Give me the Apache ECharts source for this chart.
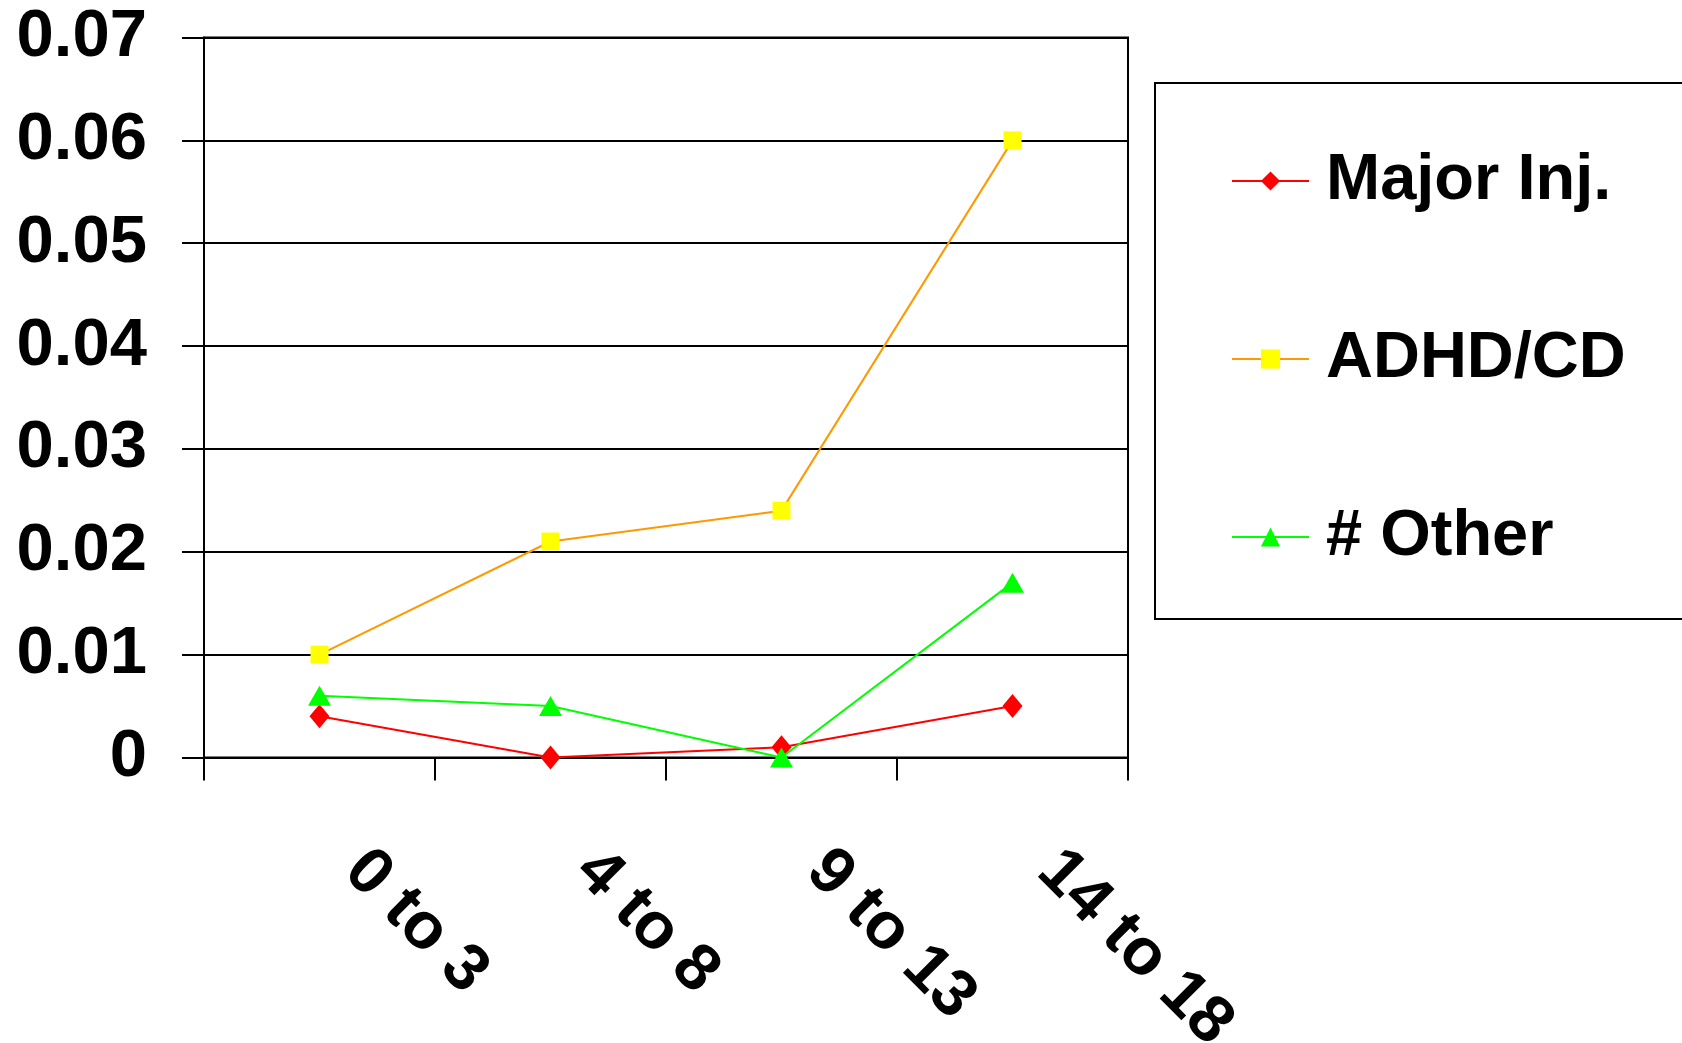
<!DOCTYPE html>
<html>
<head>
<meta charset="utf-8">
<script src="https://cdn.jsdelivr.net/npm/echarts@6/dist/echarts.min.js"></script>
<style>
html,body{margin:0;padding:0;background:#fff;}
#chart{width:1682px;height:1043px;}
</style>
</head>
<body>
<div id="chart"></div>
<script>
const categories = ['0 to 3', '4 to 8', '9 to 13', '14 to 18'];
const majorInj = [0.004, 0, 0.001, 0.005];
const adhdCd = [0.010, 0.021, 0.024, 0.060];
const other = [0.006, 0.005, 0, 0.017];
const seriesNames = ['Major Inj.', 'ADHD/CD', '# Other'];

const FONT = '"Liberation Sans", Arial, sans-serif';
const chart = echarts.init(document.getElementById('chart'), null, {renderer: 'canvas'});
chart.setOption({
  animation: false,
  backgroundColor: '#fff',
  grid: {left: 204, top: 37.5, width: 924, height: 720, show: true, borderColor: '#000', borderWidth: 2,
    containLabel: false, outerBoundsMode: 'none'},
  legend: {
    orient: 'vertical',
    left: 1155, top: 83,
    data: seriesNames,
    selectedMode: false,
    borderColor: '#000', borderWidth: 2,
    padding: [63, 150, 47, 76],
    itemWidth: 77, itemHeight: 24,
    itemGap: 108,
    textStyle: {fontFamily: FONT, fontWeight: 'bold', fontSize: 65, color: '#000', lineHeight: 70, padding: [0, 0, 0, 12]}
  },
  xAxis: {
    type: 'category',
    data: categories,
    boundaryGap: true,
    axisLine: {lineStyle: {color: '#000', width: 2}},
    axisTick: {show: true, length: 23, inside: false, lineStyle: {color: '#000', width: 2}},
    axisLabel: {rotate: -45, margin: 68, padding: [0, 0, 0, 50], fontFamily: FONT, fontWeight: 'bold', fontSize: 66, color: '#000', interval: 0}
  },
  yAxis: {
    type: 'value',
    min: 0, max: 0.07, interval: 0.01,
    axisLine: {show: true, lineStyle: {color: '#000', width: 2}},
    axisTick: {show: true, length: 22, inside: false, lineStyle: {color: '#000', width: 2}},
    splitLine: {show: true, lineStyle: {color: '#000', width: 2}},
    axisLabel: {margin: 57, fontFamily: FONT, fontWeight: 'bold', fontSize: 67, color: '#000',
      formatter: v => (v === 0 ? '0' : v.toFixed(2))}
  },
  series: [
    {name: seriesNames[0], type: 'line', data: majorInj, symbol: 'diamond', symbolSize: [20, 24],
      itemStyle: {color: '#ff0000'}, lineStyle: {color: '#ff0000', width: 2}, z: 3},
    {name: seriesNames[1], type: 'line', data: adhdCd, symbol: 'rect', symbolSize: 18,
      itemStyle: {color: '#ffff00'}, lineStyle: {color: '#ff9900', width: 2}, z: 2},
    {name: seriesNames[2], type: 'line', data: other, symbol: 'triangle', symbolSize: [23, 20],
      itemStyle: {color: '#00ff00'}, lineStyle: {color: '#00ff00', width: 2}, z: 4}
  ]
});
</script>
</body>
</html>
